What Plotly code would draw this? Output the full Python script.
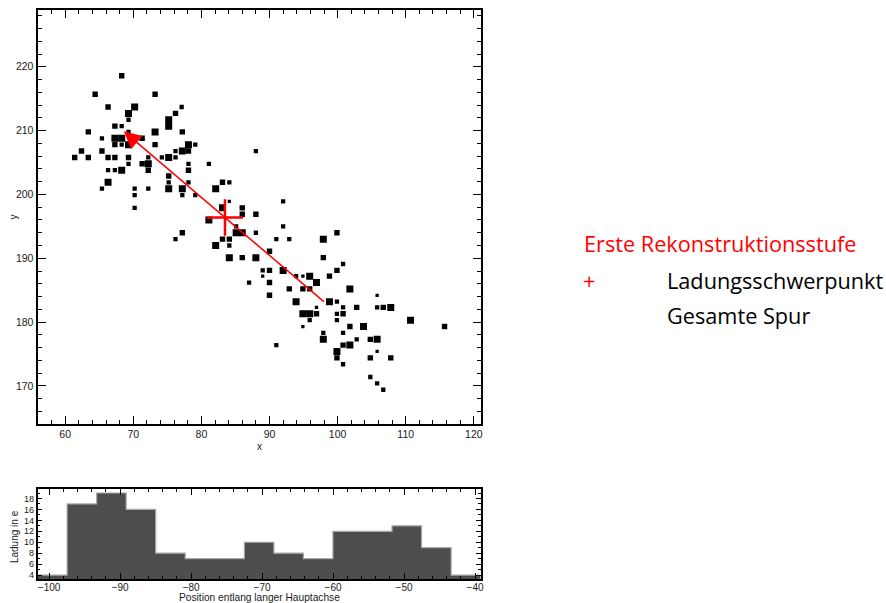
import plotly.graph_objects as go

# ---------------------------------------------------------------- data
# Pixel hits of the track (x, y) and their relative charge level (1 = lowest, 4 = highest)
x_pos = [
    68.3,
    64.4, 73.2,
    66.3, 70.2, 77.1,
    69.3, 76.2,
    69.3, 75.2,
    67.3, 68.3, 75.2,
    63.4, 69.3, 73.2, 77.2,
    65.4, 67.3, 68.3, 71.3,
    67.3, 68.3, 69.3, 73.2, 78.1, 79.1,
    62.4, 65.4, 76.2, 77.2, 78.1, 88.0,
    61.4, 63.4, 66.3, 67.3, 69.3, 72.2, 74.2, 75.2, 76.2,
    69.3, 71.3, 72.2, 78.1, 81.1,
    66.3, 67.3, 68.3, 72.2, 78.1,
    75.2,
    66.3, 75.2, 78.1, 83.1, 84.1,
    65.4, 70.2, 72.2, 75.2, 77.2, 82.1,
    70.2, 77.2, 79.1,
    84.1, 92.0,
    70.2, 83.1, 86.0,
    86.0, 88.0,
    81.1,
    85.1, 92.0,
    77.2, 85.1, 86.0, 88.0, 99.9,
    76.2, 83.1, 84.1, 91.0, 92.9, 97.9,
    82.1, 84.1,
    90.0,
    84.1, 86.0, 88.0, 97.9,
    100.8,
    89.0, 90.0, 92.0, 99.9,
    89.0, 93.9, 94.9, 95.9, 98.8,
    87.0, 90.0, 96.9,
    92.9, 94.9, 95.9, 101.8,
    90.0, 105.8,
    93.9, 98.8, 99.9,
    96.9, 100.8, 102.8, 105.8, 106.7, 107.8,
    94.9, 95.9, 96.9, 99.9, 100.8,
    95.9, 99.9, 110.7,
    94.9, 101.8, 103.8, 115.7,
    97.9, 100.8,
    97.9, 102.8, 104.8, 105.8,
    91.0, 100.8, 101.8,
    99.9, 105.8,
    99.9, 104.8, 107.8,
    100.8,
    104.8,
    105.8,
    106.7,
]

y_pos = [
    218.6,
    215.7, 215.7,
    213.7, 213.7, 213.7,
    212.7, 212.7,
    211.7, 211.7,
    210.7, 210.7, 210.7,
    209.8, 209.8, 209.8, 209.8,
    208.8, 208.8, 208.8, 208.8,
    207.8, 207.8, 207.8, 207.8, 207.8, 207.8,
    206.8, 206.8, 206.8, 206.8, 206.8, 206.8,
    205.8, 205.8, 205.8, 205.8, 205.8, 205.8, 205.8, 205.8, 205.8,
    204.8, 204.8, 204.8, 204.8, 204.8,
    203.8, 203.8, 203.8, 203.8, 203.8,
    202.9,
    201.9, 201.9, 201.9, 201.9, 201.9,
    200.9, 200.9, 200.9, 200.9, 200.9, 200.9,
    199.9, 199.9, 199.9,
    198.9, 198.9,
    197.9, 197.9, 197.9,
    196.9, 196.9,
    196.0,
    195.0, 195.0,
    194.0, 194.0, 194.0, 194.0, 194.0,
    193.0, 193.0, 193.0, 193.0, 193.0, 193.0,
    192.0, 192.0,
    191.1,
    190.1, 190.1, 190.1, 190.1,
    189.1,
    188.1, 188.1, 188.1, 188.1,
    187.2, 187.2, 187.2, 187.2, 187.2,
    186.2, 186.2, 186.2,
    185.2, 185.2, 185.2, 185.2,
    184.2, 184.2,
    183.2, 183.2, 183.2,
    182.3, 182.3, 182.3, 182.3, 182.3, 182.3,
    181.3, 181.3, 181.3, 181.3, 181.3,
    180.3, 180.3, 180.3,
    179.3, 179.3, 179.3, 179.3,
    178.3, 178.3,
    177.3, 177.3, 177.3, 177.3,
    176.4, 176.4, 176.4,
    175.4, 175.4,
    174.4, 174.4, 174.4,
    173.4,
    171.4,
    170.4,
    169.4,
]

charge_level = [
    3,
    3, 3,
    3, 4, 2,
    4, 3,
    2, 4,
    3, 2, 4,
    3, 2, 4, 3,
    2, 4, 4, 3,
    3, 2, 4, 3, 4, 2,
    3, 3, 2, 4, 3, 2,
    3, 3, 3, 3, 3, 2, 2, 4, 2,
    2, 3, 4, 2, 2,
    2, 2, 4, 3, 3,
    3,
    4, 2, 2, 3, 2,
    2, 2, 2, 4, 4, 4,
    2, 2, 2,
    1, 2,
    2, 4, 3,
    3, 3,
    4,
    2, 2,
    3, 4, 4, 2, 3,
    2, 3, 3, 2, 2, 4,
    4, 2,
    3,
    4, 3, 4, 3,
    2,
    2, 3, 4, 3,
    1, 2, 1, 4, 3,
    2, 3, 4,
    3, 3, 3, 4,
    3, 1,
    4, 4, 2,
    1, 2, 3, 2, 3, 4,
    4, 4, 3, 2, 3,
    2, 2, 4,
    1, 3, 4, 3,
    2, 2,
    4, 2, 3, 4,
    2, 3, 4,
    4, 1,
    3, 3, 3,
    2,
    2,
    2,
    2,
]

# First reconstruction stage: charge centroid and direction of the whole track
centroid_x = [83.46]
centroid_y = [196.38]
track_tail = (98.2, 183.0)
track_head = (68.6, 209.9)

# Charge projected on the long principal axis
bin_edges = [-101.63, -97.47, -93.31, -89.15, -84.99, -80.83, -76.67, -72.50,
             -68.34, -64.18, -60.02, -55.86, -51.70, -47.54, -43.37, -39.21]
bin_charge = [4, 17, 19, 16, 8, 7, 7, 10, 8, 7, 12, 12, 13, 9, 4]

x_ticks_main = [60, 70, 80, 90, 100, 110, 120]
y_ticks_main = [170, 180, 190, 200, 210, 220]
x_ticks_hist = [-100, -90, -80, -70, -60, -50, -40]
y_ticks_hist = [4, 6, 8, 10, 12, 14, 16, 18]

# ---------------------------------------------------------------- layout helpers
W, H = 886, 603
AX_FONT = "Liberation Sans, Arial, sans-serif"
TXT = "#1a1a1a"
LEVEL_SIZE = {1: 3.3, 2: 4.3, 3: 5.4, 4: 7.0}


def px_x(p):
    return p / W


def px_y(p):
    return 1 - p / H


fig = go.Figure()

# hits
fig.add_trace(go.Scatter(
    x=x_pos, y=y_pos, mode="markers",
    marker=dict(symbol="square", color="black", opacity=1,
                size=[LEVEL_SIZE[q] for q in charge_level],
                line=dict(width=0)),
    xaxis="x", yaxis="y", hoverinfo="skip", showlegend=False,
))

# charge centroid
fig.add_trace(go.Scatter(
    x=centroid_x, y=centroid_y, mode="markers",
    marker=dict(symbol="cross-thin", size=26, color="red", opacity=1,
                line=dict(width=2.5, color="red")),
    xaxis="x", yaxis="y", hoverinfo="skip", showlegend=False,
))

# histogram as a filled step outline
step_x = bin_edges
step_y = bin_charge + [bin_charge[-1]]
fig.add_trace(go.Scatter(
    x=step_x, y=step_y, mode="lines", line_shape="hv",
    line=dict(color="#a8a8a8", width=1.2),
    fill="tozeroy", fillcolor="#4d4d4d",
    xaxis="x2", yaxis="y2", hoverinfo="skip", showlegend=False,
))

frame = dict(showline=True, linecolor="black", linewidth=2, mirror="allticks",
             ticks="inside", tickcolor="black", showgrid=False, zeroline=False)

fig.update_layout(
    width=W, height=H,
    margin=dict(l=0, r=0, t=0, b=0),
    paper_bgcolor="white", plot_bgcolor="white",
    font=dict(family=AX_FONT, color=TXT),
    xaxis=dict(**frame, domain=[px_x(37.7), px_x(482.3)], range=[55.95, 121.0],
               tickvals=x_ticks_main, ticklen=8, tickwidth=1,
               tickfont=dict(size=10.5, color=TXT), anchor="y",
               minor=dict(dtick=2, tick0=0, ticklen=4, ticks="inside",
                          tickcolor="black", tickwidth=1)),
    yaxis=dict(**frame, domain=[px_y(424.3), px_y(10)], range=[164.1, 228.9],
               tickvals=y_ticks_main, ticklen=8, tickwidth=1,
               tickfont=dict(size=10.5, color=TXT), anchor="x",
               minor=dict(dtick=2, tick0=0, ticklen=4, ticks="inside",
                          tickcolor="black", tickwidth=1)),
    xaxis2=dict(**frame, domain=[px_x(37.7), px_x(482.3)], range=[-101.63, -39.21],
                tickvals=x_ticks_hist, ticklen=6, tickwidth=1, ticklabelstandoff=-2,
                tickfont=dict(size=10, color=TXT), anchor="y2",
                minor=dict(dtick=2, tick0=0, ticklen=3, ticks="inside",
                           tickcolor="black", tickwidth=1)),
    yaxis2=dict(**frame, domain=[px_y(580), px_y(490)], range=[3.27, 19.7],
                tickvals=y_ticks_hist, ticklen=5, tickwidth=1,
                tickfont=dict(size=9, color=TXT), anchor="x2",
                minor=dict(dtick=1, tick0=0, ticklen=3, ticks="inside",
                           tickcolor="black", tickwidth=1)),
)
fig.update_xaxes(linewidth=1.5, selector=dict(anchor="y2"))
fig.update_yaxes(linewidth=1.5, selector=dict(anchor="x2"))

# direction of the full track
fig.add_annotation(
    x=track_head[0], y=track_head[1], ax=track_tail[0], ay=track_tail[1],
    xref="x", yref="y", axref="x", ayref="y", text="", showarrow=True,
    arrowhead=2, arrowsize=2.3, arrowwidth=1.5, arrowcolor="red", standoff=0,
)

# axis titles
fig.add_annotation(text="x", x=px_x(260), y=px_y(447), xref="paper", yref="paper",
                   showarrow=False, font=dict(size=10, family=AX_FONT, color=TXT),
                   xanchor="center", yanchor="middle")
fig.add_annotation(text="y", x=px_x(14), y=px_y(217), xref="paper", yref="paper",
                   showarrow=False, textangle=-90,
                   font=dict(size=10, family=AX_FONT, color=TXT),
                   xanchor="center", yanchor="middle")
fig.add_annotation(text="Position entlang langer Hauptachse", x=px_x(260), y=px_y(598),
                   xref="paper", yref="paper", showarrow=False,
                   font=dict(size=10.2, family=AX_FONT, color=TXT),
                   xanchor="center", yanchor="middle")
fig.add_annotation(text="Ladung in e", x=px_x(14), y=px_y(537), xref="paper", yref="paper",
                   showarrow=False, textangle=-90,
                   font=dict(size=10, family=AX_FONT, color=TXT),
                   xanchor="center", yanchor="middle")

# key on the right
KEY_FONT = "Open Sans, Noto Sans, sans-serif"
KEY_SIZE = 21.7
fig.add_annotation(text="Erste Rekonstruktionsstufe", x=px_x(584), y=px_y(244),
                   xref="paper", yref="paper", showarrow=False,
                   font=dict(size=KEY_SIZE, family=KEY_FONT, color="red"),
                   xanchor="left", yanchor="middle")
fig.add_annotation(text="+", x=px_x(591), y=px_y(281), xref="paper", yref="paper",
                   showarrow=False, font=dict(size=KEY_SIZE, family=KEY_FONT, color="red"),
                   xanchor="center", yanchor="middle")
fig.add_annotation(text="Ladungsschwerpunkt", x=px_x(667), y=px_y(281),
                   xref="paper", yref="paper", showarrow=False,
                   font=dict(size=KEY_SIZE, family=KEY_FONT, color="black"),
                   xanchor="left", yanchor="middle")
fig.add_annotation(text="Gesamte Spur", x=px_x(667), y=px_y(316),
                   xref="paper", yref="paper", showarrow=False,
                   font=dict(size=KEY_SIZE, family=KEY_FONT, color="black"),
                   xanchor="left", yanchor="middle")

fig.write_html("out.html")
